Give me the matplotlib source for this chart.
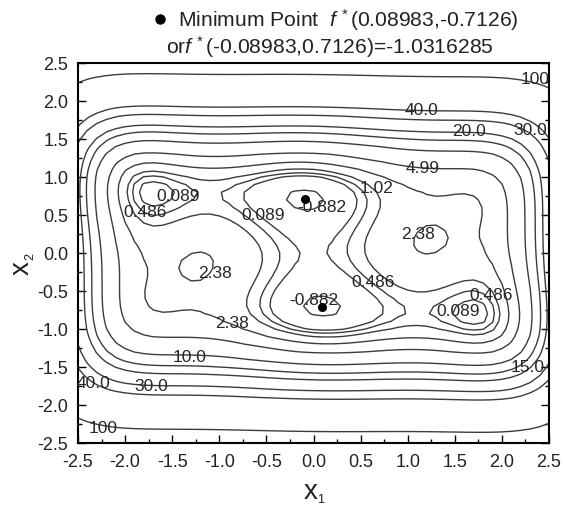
import numpy as np
import matplotlib
matplotlib.use("Agg")
import matplotlib.pyplot as plt
from matplotlib.ticker import MultipleLocator

plt.rcParams['font.family'] = ['Liberation Sans', 'DejaVu Sans']
plt.rcParams['mathtext.fontset'] = 'custom'
plt.rcParams['mathtext.rm'] = 'Liberation Sans'
plt.rcParams['mathtext.it'] = 'Liberation Sans:italic'

# Six-hump camel function sampled on a regular grid
x_range = (-2.5, 2.5)
y_range = (-2.5, 2.5)
grid_step = 0.1

# Contour levels
levels = [-0.882, 0.089, 0.486, 1.02, 2.38, 4.99, 10.0, 15.0, 20.0, 30.0, 40.0, 100.0]

# Global minimum points
min_x1 = [0.08983, -0.08983]
min_x2 = [-0.7126, 0.7126]
f_min = -1.0316285

# Contour label placements: (level, x1, x2)
label_levels = [100.0, 40.0, 20.0, 30.0, 4.99, 1.02, 0.089, 0.486, 0.089, -0.882,
                2.38, 2.38, 0.486, -0.882, 0.486, 0.089, 2.38, 10.0, 15.0, 40.0,
                30.0, 100.0]
label_x1 = [2.35, 1.15, 1.65, 2.30, 1.16, 0.67, -1.44, -1.79, -0.54, 0.09,
            1.11, -1.05, 0.63, 0.005, 1.89, 1.54, -0.87, -1.32, 2.27, -2.34,
            -1.72, -2.23]
label_x2 = [2.29, 1.89, 1.61, 1.63, 1.13, 0.86, 0.76, 0.54, 0.51, 0.61,
            0.25, -0.25, -0.37, -0.61, -0.55, -0.75, -0.92, -1.36, -1.49, -1.71,
            -1.74, -2.29]


def camel(x, y):
    return (4 - 2.1 * x**2 + x**4 / 3) * x**2 + x * y + (-4 + 4 * y**2) * y**2


xs = np.arange(x_range[0], x_range[1] + grid_step / 2, grid_step)
ys = np.arange(y_range[0], y_range[1] + grid_step / 2, grid_step)
X, Y = np.meshgrid(xs, ys)
Z = camel(X, Y)

fig = plt.figure(figsize=(5.64, 5.06), dpi=100)
ax = fig.add_axes([78 / 564, 1 - 444 / 506, (549 - 78) / 564, (444 - 64) / 506])

line_color = '#3c3c3c'
ax.contour(X, Y, Z, levels=levels, colors=line_color, linewidths=1.0,
           linestyles='solid')

for lv, lx, ly in zip(label_levels, label_x1, label_x2):
    if lv >= 10:
        txt = f"{lv:.1f}" if lv < 100 else f"{lv:.0f}"
    else:
        txt = f"{lv:g}"
    ax.text(lx, ly, txt, ha='center', va='center', fontsize=12.5, color='#262626')

ax.plot(min_x1, min_x2, 'o', color='black', markersize=5.5, zorder=5)

ax.set_xlim(*x_range)
ax.set_ylim(*y_range)
ax.xaxis.set_major_locator(MultipleLocator(0.5))
ax.xaxis.set_minor_locator(MultipleLocator(0.25))
ax.yaxis.set_major_locator(MultipleLocator(0.5))
ax.yaxis.set_minor_locator(MultipleLocator(0.25))
ax.xaxis.set_major_formatter(plt.FuncFormatter(lambda v, p: f"{v:.1f}"))
ax.yaxis.set_major_formatter(plt.FuncFormatter(lambda v, p: f"{v:.1f}"))
ax.tick_params(which='both', direction='in', top=False, right=True,
               labelsize=13, labelcolor='#222222', width=1.0)
ax.tick_params(which='major', length=6, pad=7)
ax.tick_params(which='minor', length=3)
for sp in ax.spines.values():
    sp.set_linewidth(1.5)

fig.text(311 / 564, 1 - 492 / 506, 'x', fontsize=20, ha='center', va='center', color='#222222')
fig.text(317 / 564, 1 - 500 / 506, '1', fontsize=9, ha='left', va='center', color='#222222')
fig.text(22 / 564, 1 - 268 / 506, 'x', fontsize=20, ha='center', va='center',
         rotation=90, color='#222222')
fig.text(30 / 564, 1 - 257 / 506, '2', fontsize=9, ha='center', va='center',
         rotation=90, color='#222222')

# Heading with the minimum point marker
fig.lines.append(plt.Line2D([160 / 564], [1 - 20 / 506], marker='o', color='black',
                            markersize=6.5, transform=fig.transFigure))
fig.text(178 / 564, 1 - 20 / 506,
         r'Minimum Point  $\mathit{f}^{\,*}$' + f'({min_x1[0]},{min_x2[0]})',
         fontsize=15.2, ha='left', va='center', color='#222222')
fig.text(166 / 564, 1 - 47 / 506,
         r'or$\mathit{f}^{\,*}$' + f'({min_x1[1]},{min_x2[1]})={f_min}',
         fontsize=15.2, ha='left', va='center', color='#222222')

fig.savefig('out.png', dpi=100)
